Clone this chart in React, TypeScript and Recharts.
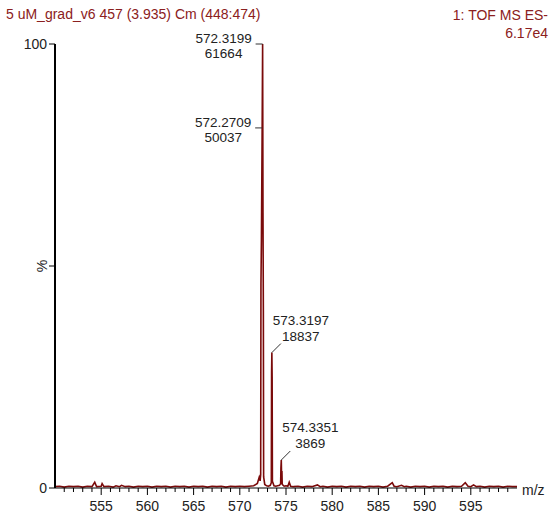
import React from "react";
import { LineChart, Line, XAxis, YAxis, ReferenceDot } from "recharts";

// profile spectrum, m/z vs relative intensity (%)
const mzValues = [
  550.0, 550.5, 551.0, 551.5, 552.0, 552.5, 553.0, 553.5, 554.0, 554.3,
  554.5, 555.0, 555.1, 555.3, 555.8, 556.3, 556.6, 557.0, 557.2, 557.6,
  558.0, 558.5, 559.0, 559.5, 560.0, 560.5, 561.0, 561.5, 562.0, 562.5,
  563.0, 563.5, 564.0, 564.5, 565.0, 565.5, 566.0, 566.5, 567.0, 567.5,
  568.0, 568.5, 569.0, 569.5, 570.0, 570.5, 571.0, 571.5, 571.9, 572.1,
  572.2, 572.26, 572.29, 572.34, 572.42, 572.47, 572.51, 572.55, 572.58, 572.7,
  572.9, 573.1, 573.3, 573.41, 573.44, 573.47, 573.5, 573.53, 573.7, 573.9,
  574.1, 574.3, 574.42, 574.45, 574.49, 574.52, 574.56, 574.59, 574.8, 575.0,
  575.2, 575.35, 575.5, 575.8, 576.3, 576.8, 577.3, 577.8, 578.4, 578.7,
  579.0, 579.5, 580.0, 580.5, 581.0, 581.5, 582.0, 582.5, 583.0, 583.5,
  584.0, 584.5, 585.0, 585.5, 586.0, 586.5, 586.7, 587.0, 587.5, 587.8,
  588.0, 588.5, 589.0, 589.5, 590.0, 590.5, 591.0, 591.5, 592.0, 592.5,
  593.0, 593.5, 594.0, 594.4, 594.7, 595.0, 595.3, 595.6, 596.0, 596.5,
  597.0, 597.5, 598.0, 598.5, 599.0, 599.5, 600.0,
];
const pctValues = [
  0.3, 0.4, 0.2, 0.4, 0.3, 0.4, 0.2, 0.4, 0.3, 1.3,
  0.3, 0.4, 1.0, 0.3, 0.4, 0.2, 0.5, 0.3, 0.6, 0.3,
  0.4, 0.2, 0.4, 0.3, 0.4, 0.2, 0.4, 0.3, 0.4, 0.2,
  0.4, 0.3, 0.4, 0.2, 0.4, 0.3, 0.4, 0.2, 0.4, 0.3,
  0.4, 0.2, 0.4, 0.3, 0.4, 0.3, 0.4, 0.5, 1.0, 2.4,
  1.6, 3, 46, 56, 81.1, 100, 62, 40, 2.5, 0.8,
  0.5, 0.4, 0.6, 1.2, 26, 30.5, 25, 1.5, 0.5, 0.4,
  0.5, 0.6, 1, 4.5, 6.3, 3, 3.8, 0.8, 0.4, 0.5,
  0.4, 1.3, 0.4, 0.3, 0.4, 0.2, 0.4, 0.3, 0.7, 0.3,
  0.4, 0.2, 0.4, 0.3, 0.4, 0.2, 0.4, 0.3, 0.4, 0.2,
  0.4, 0.3, 0.4, 0.2, 0.4, 1.2, 0.4, 0.3, 0.6, 0.3,
  0.4, 0.2, 0.4, 0.3, 0.4, 0.2, 0.4, 0.3, 0.4, 0.2,
  0.4, 0.3, 0.4, 1.2, 0.4, 0.3, 0.7, 0.3, 0.4, 0.2,
  0.4, 0.3, 0.4, 0.2, 0.4, 0.3, 0.3,
];

// labelled peaks: where they sit on the plot, and what the labels say
const peakPos = [572.47, 572.42, 573.47, 574.49];
const peakPct = [100, 81.1, 30.5, 6.3];
const peakMz = ["572.3199", "572.2709", "573.3197", "574.3351"];
const peakCounts = ["61664", "50037", "18837", "3869"];
const peakSide = ["left", "left", "right", "right"];

const xTicks = [
  551, 552, 553, 554, 555, 556, 557, 558, 559, 560, 561, 562, 563, 564, 565,
  566, 567, 568, 569, 570, 571, 572, 573, 574, 575, 576, 577, 578, 579, 580,
  581, 582, 583, 584, 585, 586, 587, 588, 589, 590, 591, 592, 593, 594, 595,
  596, 597, 598, 599,
];
const xLabels = [555, 560, 565, 570, 575, 580, 585, 590, 595];
const yTicks = [0, 50, 100];

const spectrum = mzValues.map((mz, i) => ({ mz, pct: pctValues[i] }));

const FONT = '"Liberation Sans", Arial, sans-serif';
const RED = "#8b2020";
const LINE = "#7a0a0a";
const TXT = "#222";

const XTick = ({ x, y, payload }: any) => {
  const major = xLabels.includes(payload.value);
  return (
    <g>
      <line x1={x} x2={x} y1={y} y2={y + (major ? 7 : 4)} stroke="#000" />
      {major && (
        <text x={x} y={y + 23} textAnchor="middle" fontSize={14} fontFamily={FONT} fill={TXT}>
          {payload.value}
        </text>
      )}
    </g>
  );
};

const YTick = ({ x, y, payload }: any) => (
  <g>
    <line x1={x - 6} x2={x} y1={y} y2={y} stroke="#000" />
    {payload.value === 50 ? (
      <text
        x={x - 13}
        y={y}
        textAnchor="middle"
        dominantBaseline="central"
        transform={`rotate(-90 ${x - 13} ${y})`}
        fontSize={14}
        fontFamily={FONT}
        fill={TXT}
      >
        %
      </text>
    ) : (
      <text x={x - 8} y={y} textAnchor="end" dominantBaseline="central" fontSize={14} fontFamily={FONT} fill={TXT}>
        {payload.value}
      </text>
    )}
  </g>
);

const PeakLabel = ({ cx, cy, mz, count, side }: any) => {
  if (side === "left") {
    return (
      <g fontFamily={FONT} fontSize={13.5} fill={TXT}>
        <line x1={cx - 7} x2={cx} y1={cy} y2={cy} stroke="#333" />
        <text x={cx - 39} y={cy - 1} textAnchor="middle">{mz}</text>
        <text x={cx - 39} y={cy + 14} textAnchor="middle">{count}</text>
      </g>
    );
  }
  return (
    <g fontFamily={FONT} fontSize={13.5} fill={TXT}>
      <line x1={cx} x2={cx + 9} y1={cy} y2={cy - 9} stroke="#333" />
      <text x={cx + 29} y={cy - 28} textAnchor="middle">{mz}</text>
      <text x={cx + 29} y={cy - 12} textAnchor="middle">{count}</text>
    </g>
  );
};

export default function App() {
  return (
    <div style={{ position: "absolute", left: 0, top: 0, width: 554, height: 513, background: "#fff" }}>
      <div style={{ position: "absolute", left: 6, top: 6, fontFamily: FONT, fontSize: 14, color: RED, whiteSpace: "nowrap" }}>
        5 uM_grad_v6 457 (3.935) Cm (448:474)
      </div>
      <div
        style={{
          position: "absolute",
          right: 6,
          top: 6,
          fontFamily: FONT,
          fontSize: 14,
          color: RED,
          textAlign: "right",
          lineHeight: "18px",
          whiteSpace: "nowrap",
        }}
      >
        1: TOF MS ES-
        <br />
        6.17e4
      </div>
      <LineChart width={554} height={513} data={spectrum} margin={{ top: 44, right: 37, left: 5, bottom: 5 }}>
        <XAxis
          dataKey="mz"
          type="number"
          domain={[550, 600]}
          ticks={xTicks}
          interval={0}
          tickSize={0}
          tickMargin={0}
          tick={<XTick />}
          tickLine={false}
          axisLine={{ stroke: "#000" }}
          height={20}
          allowDataOverflow
          label={(p: any) => (
            <text
              x={p.viewBox.x + p.viewBox.width + 5}
              y={p.viewBox.y + 2}
              dominantBaseline="central"
              fontSize={14}
              fontFamily={FONT}
              fill={TXT}
            >
              m/z
            </text>
          )}
        />
        <YAxis
          type="number"
          domain={[0, 100]}
          ticks={yTicks}
          interval={0}
          tickSize={0}
          tickMargin={0}
          tick={<YTick />}
          tickLine={false}
          axisLine={{ stroke: "#000", strokeWidth: 2 }}
          width={50}
          allowDataOverflow
        />
        <Line
          dataKey="pct"
          type="linear"
          stroke={LINE}
          strokeWidth={1.6}
          dot={false}
          isAnimationActive={false}
        />
        {peakPos.map((pos, i) => (
          <ReferenceDot
            key={pos}
            x={pos}
            y={peakPct[i]}
            r={1}
            ifOverflow="visible"
            shape={(p: any) => (
              <PeakLabel cx={p.cx} cy={p.cy} mz={peakMz[i]} count={peakCounts[i]} side={peakSide[i]} />
            )}
          />
        ))}
      </LineChart>
    </div>
  );
}
